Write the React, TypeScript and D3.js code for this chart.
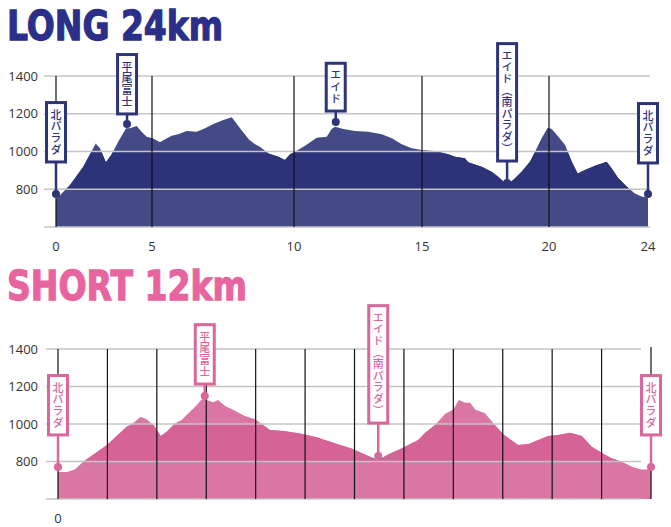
import React from "react";
import * as d3 from "d3";

// ---------- DATA ----------
const longKm = [0, 0.73, 1.42, 2.07, 2.29, 2.6, 2.9, 3.24, 3.65, 3.85, 4.2, 4.46, 4.72, 5.02, 5.28, 5.46, 5.69, 5.92, 6.22, 6.57, 6.87, 7.16, 7.51, 7.81, 8.1, 8.43, 8.63, 8.8, 9.1, 9.45, 9.68, 9.86, 10.04, 10.43, 10.89, 11.28, 11.47, 11.6, 11.93, 12.38, 12.9, 13.43, 13.82, 14.21, 14.6, 14.99, 15.51, 16.04, 16.3, 16.69, 16.82, 17.35, 17.74, 18.0, 18.33, 18.59, 18.92, 19.25, 19.45, 19.71, 19.95, 20.11, 20.38, 20.65, 20.92, 21.16, 21.45, 21.86, 22.33, 22.53, 22.8, 23.14, 23.47, 23.74, 24];
const longElev = [747, 822, 919, 1043, 1017, 943, 985, 1052, 1123, 1123, 1135, 1105, 1078, 1070, 1049, 1065, 1084, 1091, 1109, 1105, 1123, 1146, 1167, 1181, 1123, 1061, 1038, 1025, 990, 972, 955, 985, 999, 1031, 1073, 1078, 1119, 1131, 1119, 1109, 1105, 1091, 1070, 1038, 1017, 1008, 1003, 985, 972, 964, 943, 919, 893, 866, 826, 849, 893, 946, 999, 1070, 1126, 1119, 1078, 1034, 946, 884, 902, 925, 946, 911, 858, 814, 778, 761, 755];

const shortKm = [0, 0.18, 0.34, 0.51, 0.99, 1.39, 1.49, 1.67, 1.79, 1.93, 2.0, 2.08, 2.2, 2.37, 2.5, 2.67, 2.81, 2.91, 3.01, 3.14, 3.24, 3.38, 3.55, 3.78, 3.99, 4.15, 4.29, 4.56, 4.9, 5.23, 5.6, 5.94, 6.28, 6.48, 6.68, 6.95, 7.29, 7.43, 7.63, 7.83, 8.0, 8.11, 8.24, 8.34, 8.44, 8.64, 8.84, 9.01, 9.31, 9.52, 9.72, 9.92, 10.12, 10.36, 10.6, 10.8, 11.0, 11.2, 11.41, 11.64, 11.81, 12];
const shortElev = [744, 744, 758, 799, 888, 986, 998, 1039, 1025, 995, 968, 936, 959, 1004, 1021, 1066, 1101, 1132, 1128, 1116, 1128, 1096, 1075, 1043, 1025, 995, 968, 963, 950, 929, 897, 870, 829, 808, 838, 870, 915, 954, 995, 1053, 1078, 1128, 1114, 1114, 1078, 1057, 995, 945, 888, 893, 915, 936, 941, 954, 936, 879, 847, 817, 799, 769, 758, 758];

const longMarkerKm = [0, 3.7, 11.63, 18.35, 24];
const longMarkerElev = [775, 1146, 1156, 833, 775];
const longMarkerLabels = ["北パラダ", "平尾富士", "エイド", "エイド（南パラダ）", "北パラダ"];

const shortMarkerKm = [0, 2.97, 6.48, 12];
const shortMarkerElev = [771, 1149, 829, 771];
const shortMarkerLabels = ["北パラダ", "平尾富士", "エイド（南パラダ）", "北パラダ"];

const elevTicks = [800, 1000, 1200, 1400];
const longKmTicks = [0, 5, 10, 15, 20, 24];
const longKmLines = [0, 5, 10, 15, 20];
const shortKmLines = [0, 1, 2, 3, 4, 5, 6, 7, 8, 9, 10, 11, 12];
const shortKmTicks = [0];

// ---------- LAYOUT ----------
const longStems = [32, 10, 11, 22, 31];
const shortStems = [32, 12, 33, 32];

type ChartProps = {
  id: string;
  title: string;
  titleColor: string;
  titleY: number;
  titleLen: number;
  km: number[];
  elev: number[];
  x: d3.ScaleLinear<number, number>;
  yTop: number;
  yBottom: number;
  gridX0: number;
  gridX1: number;
  kmLines: number[];
  kmTicks: number[];
  lineTopExtra?: boolean;
  lightFill: string;
  darkFill: string;
  accent: string;
  markerKm: number[];
  markerElev: number[];
  markerLabels: string[];
  stems: number[];
};

function ElevationChart(p: ChartProps) {
  const y = d3.scaleLinear().domain([600, 1400]).range([p.yBottom, p.yTop]);
  const pts = p.km.map((k, i) => [k, p.elev[i]] as [number, number]);
  const area = d3
    .area<[number, number]>()
    .x((d) => p.x(d[0]))
    .y0(y(600))
    .y1((d) => y(d[1]))(pts) as string;
  const xs = p.x.range();
  const xmin = Math.min(...xs) - 2;
  const xmax = Math.max(...xs) + 2;
  const bands = [
    [800, 1000],
    [1200, 1400],
  ];
  const fontSize = 11;
  const spacing = 0.6;
  return (
    <g>
      <text
        x={7}
        y={p.titleY}
        fill={p.titleColor}
        stroke={p.titleColor}
        strokeWidth={1.3}
        fontFamily="'DejaVu Sans', sans-serif"
        fontWeight="bold"
        fontSize={41}
        textLength={p.titleLen}
        lengthAdjust="spacingAndGlyphs"
      >
        {p.title}
      </text>
      <defs>
        {bands.map((b, i) => (
          <clipPath id={`${p.id}-band${i}`} key={i}>
            <rect x={xmin} width={xmax - xmin} y={y(b[1])} height={y(b[0]) - y(b[1])} />
          </clipPath>
        ))}
      </defs>
      <path d={area} fill={p.lightFill} />
      {bands.map((b, i) => (
        <path key={i} d={area} fill={p.darkFill} clipPath={`url(#${p.id}-band${i})`} />
      ))}
      {[600, ...elevTicks].map((t) => (
        <line key={t} x1={p.gridX0} x2={p.gridX1} y1={y(t)} y2={y(t)} stroke="#c4c4c4" strokeWidth={1.4} />
      ))}
      {elevTicks.map((t) => (
        <text
          key={t}
          x={38}
          y={y(t)}
          dy="0.35em"
          textAnchor="end"
          fontFamily="'Open Sans', sans-serif"
          fontSize={13}
          fill="#333"
        >
          {t}
        </text>
      ))}
      {p.kmLines.map((k) => (
        <line
          key={k}
          x1={p.x(k)}
          x2={p.x(k)}
          y1={p.lineTopExtra && k === p.kmLines[p.kmLines.length - 1] ? y(1400) - 2 : y(1400)}
          y2={y(600)}
          stroke="#111"
          strokeWidth={1.2}
        />
      ))}
      {p.kmTicks.map((k) => (
        <text
          key={k}
          x={p.x(k)}
          y={y(600) + 19}
          dy="0.35em"
          textAnchor="middle"
          fontFamily="'Open Sans', sans-serif"
          fontSize={13}
          fill="#333"
        >
          {k}
        </text>
      ))}
      {p.markerKm.map((k, i) => {
        const cx = p.x(k);
        const cy = y(p.markerElev[i]);
        const label = p.markerLabels[i];
        const n = Array.from(label).length;
        const boxH = n * (fontSize + spacing) + 13;
        const boxBottom = cy - p.stems[i];
        const boxTop = boxBottom - boxH;
        return (
          <g key={i}>
            <line x1={cx} x2={cx} y1={boxBottom} y2={cy} stroke={p.accent} strokeWidth={2.5} />
            <circle cx={cx} cy={cy} r={4} fill={p.accent} />
            <rect x={cx - 9.5} y={boxTop} width={19} height={boxH} fill="#fff" stroke={p.accent} strokeWidth={3} />
            <text
              x={cx}
              y={boxTop + 6.5}
              style={{ writingMode: "vertical-rl" } as any}
              fontFamily="'Noto Sans CJK JP', sans-serif"
              fontWeight={500}
              fontSize={fontSize}
              letterSpacing={spacing}
              fill={p.accent}
            >
              {label}
            </text>
          </g>
        );
      })}
    </g>
  );
}

export default function App() {
  const longX = d3.scaleLinear().domain(longKmTicks).range([56, 152, 294, 422, 549, 648]);
  const shortX = d3.scaleLinear().domain([0, 12]).range([58, 651]);
  return (
    <svg width={671} height={527} style={{ position: "absolute", left: 0, top: 0, background: "#fff" }}>
      <ElevationChart
        id="long"
        title="LONG 24km"
        titleColor="#2b2f8a"
        titleY={40}
        titleLen={216}
        km={longKm}
        elev={longElev}
        x={longX}
        yTop={76}
        yBottom={227}
        gridX0={44}
        gridX1={650}
        kmLines={longKmLines}
        kmTicks={longKmTicks}
        lightFill="#444a86"
        darkFill="#2c3378"
        accent="#2e3479"
        markerKm={longMarkerKm}
        markerElev={longMarkerElev}
        markerLabels={longMarkerLabels}
        stems={longStems}
      />
      <ElevationChart
        id="short"
        title="SHORT 12km"
        titleColor="#e8649f"
        titleY={300}
        titleLen={240}
        km={shortKm}
        elev={shortElev}
        x={shortX}
        yTop={349}
        yBottom={499}
        gridX0={46}
        gridX1={641}
        kmLines={shortKmLines}
        kmTicks={shortKmTicks}
        lineTopExtra
        lightFill="#da76a3"
        darkFill="#d56396"
        accent="#d9679c"
        markerKm={shortMarkerKm}
        markerElev={shortMarkerElev}
        markerLabels={shortMarkerLabels}
        stems={shortStems}
      />
    </svg>
  );
}
